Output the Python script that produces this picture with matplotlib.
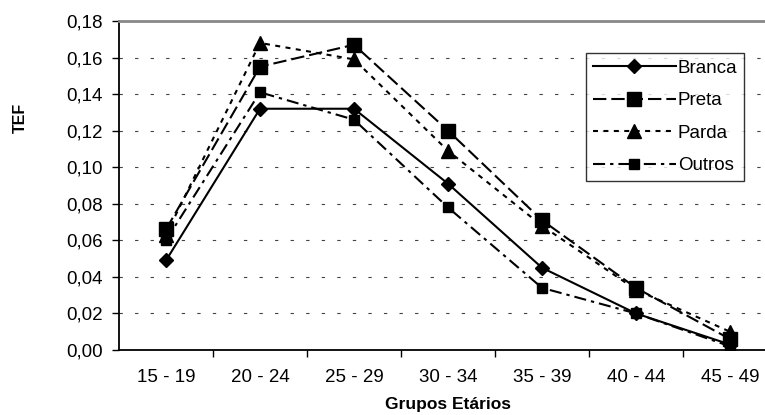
import matplotlib.pyplot as plt
from matplotlib.ticker import FixedLocator, NullFormatter

plt.rcParams['font.family'] = ['Liberation Sans', 'DejaVu Sans']

# data
grupos = ["15 - 19", "20 - 24", "25 - 29", "30 - 34", "35 - 39", "40 - 44", "45 - 49"]
branca = [0.049, 0.132, 0.132, 0.091, 0.045, 0.020, 0.003]
preta = [0.066, 0.155, 0.167, 0.120, 0.071, 0.034, 0.006]
parda = [0.063, 0.168, 0.159, 0.109, 0.068, 0.033, 0.010]
outros = [0.060, 0.141, 0.126, 0.078, 0.034, 0.020, 0.002]
y_ticks = [0.00, 0.02, 0.04, 0.06, 0.08, 0.10, 0.12, 0.14, 0.16, 0.18]
y_labels = ["0,00", "0,02", "0,04", "0,06", "0,08", "0,10", "0,12", "0,14", "0,16", "0,18"]

fs = 13.5

fig = plt.figure(figsize=(7.65, 4.15), dpi=100)
# plot area sengaja lewat batas kanan (gambar asli kepotong)
ax = fig.add_axes([119 / 765, 65 / 415, 658 / 765, 329 / 415])

x = list(range(len(grupos)))
lw = 1.5
ax.plot(x, branca, color='black', lw=lw, ls='-', marker='D', ms=7.5, label='Branca')
ax.plot(x, preta, color='black', lw=lw, ls=(0, (6.4, 2.4)), marker='s', ms=10, label='Preta')
ax.plot(x, parda, color='black', lw=lw, ls=(0, (2.4, 2.6)), marker='^', ms=10, label='Parda')
ax.plot(x, outros, color='black', lw=lw, ls=(0, (5.8, 2.4, 1.6, 2.4)), marker='s', ms=7, label='Outros')

# grid putus-putus
for yv in y_ticks[1:-1]:
    ax.axhline(yv, color='#444444', lw=0.8, ls=(0, (3, 11)), zorder=0)

ax.set_xlim(-0.5, len(grupos) - 0.5)
ax.set_ylim(0, 0.18)
ax.set_yticks(y_ticks)
ax.set_yticklabels(y_labels, fontsize=fs)
ax.xaxis.set_major_locator(FixedLocator([i + 0.5 for i in range(len(grupos) - 1)]))
ax.xaxis.set_major_formatter(NullFormatter())
ax.xaxis.set_minor_locator(FixedLocator(x))
ax.set_xticklabels(grupos, minor=True, fontsize=fs)
ax.tick_params(axis='x', which='minor', length=0, pad=14)
ax.tick_params(axis='x', which='major', length=5, width=1, direction='out')
ax.tick_params(axis='y', length=5, width=1, direction='out', pad=6.5)

ax.spines['top'].set_color('#888888')
ax.spines['top'].set_linewidth(2)
ax.spines['right'].set_visible(False)
ax.spines['left'].set_linewidth(1.3)
ax.spines['bottom'].set_linewidth(1.3)

# judul sumbu
fig.text(20 / 765, 1 - 118 / 415, 'TEF', fontsize=11.5, fontweight='bold',
         rotation=90, ha='center', va='center')
fig.text(448 / 765, 1 - 404 / 415, 'Grupos Etários', fontsize=12.5, fontweight='bold',
         ha='center', va='center')

leg = ax.legend(loc='upper right', bbox_to_anchor=(744 / 765, 1 - 53 / 415),
                bbox_transform=fig.transFigure, borderaxespad=0, fontsize=fs,
                handlelength=4.45, handletextpad=0.1, labelspacing=0.82,
                frameon=True, fancybox=False, edgecolor='black', borderpad=0.35)
leg.get_frame().set_linewidth(1)

plt.savefig('out.png', dpi=100)
plt.close()
